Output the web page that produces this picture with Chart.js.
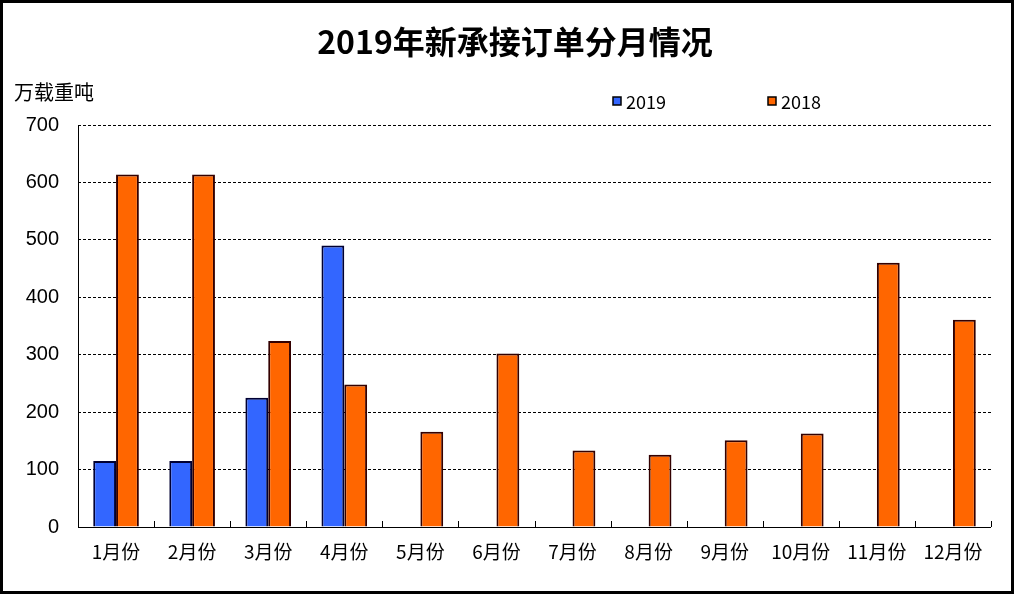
<!DOCTYPE html>
<html><head><meta charset="utf-8">
<script src="https://cdn.jsdelivr.net/npm/chart.js@4.4.1/dist/chart.umd.min.js"></script>
<style>html,body{margin:0;padding:0;background:#fff}#wrap{width:1016px;height:596px;position:relative}</style>
</head><body><div id="wrap"><canvas id="c" width="1016" height="596"></canvas></div>
<script>
const categories = ['1月份','2月份','3月份','4月份','5月份','6月份','7月份','8月份','9月份','10月份','11月份','12月份'];
const series2019 = [115, 115, 225, 490, null, null, null, null, null, null, null, null];
const series2018 = [614, 614, 324, 248, 166, 302, 133, 126, 151, 163, 460, 361];
const yTicks = [0, 100, 200, 300, 400, 500, 600, 700];
const titleText = '2019年新承接订单分月情况';
const unitText = '万载重吨';

const CJK = '"Noto Sans CJK SC", "Noto Sans", sans-serif';

const decor = {
  id: 'decor',
  afterDraw(chart) {
    const ctx = chart.ctx, a = chart.chartArea;
    ctx.save();
    // outer border
    ctx.strokeStyle = '#000'; ctx.lineWidth = 3;
    ctx.strokeRect(1.5, 1.5, 1011, 591);
    // title
    ctx.fillStyle = '#000';
    ctx.font = 'bold 32px ' + CJK;
    ctx.textAlign = 'center'; ctx.textBaseline = 'middle';
    ctx.fillText(titleText, 515, 42);
    // unit
    ctx.font = '20px ' + CJK;
    ctx.textAlign = 'left';
    ctx.fillText(unitText, 14, 92);
    // legend
    const items = [[chart.data.datasets[0], 613], [chart.data.datasets[1], 768]];
    ctx.font = '18px ' + CJK;
    items.forEach(([ds, x]) => {
      ctx.fillStyle = ds.backgroundColor;
      ctx.fillRect(x, 97, 8, 8);
      ctx.strokeStyle = '#000'; ctx.lineWidth = 1.5;
      ctx.strokeRect(x, 97, 8, 8);
      ctx.fillStyle = '#000';
      ctx.fillText(ds.label, x + 13, 102);
    });
    // small upward ticks between categories on x axis
    ctx.strokeStyle = '#000'; ctx.lineWidth = 1;
    const n = categories.length;
    const step = (a.right - a.left) / n;
    for (let i = 1; i <= n; i++) {
      const x = Math.round(a.left + step * i) + 0.5;
      ctx.beginPath(); ctx.moveTo(x, a.bottom); ctx.lineTo(x, a.bottom - 6); ctx.stroke();
    }
    // axes lines
    ctx.beginPath(); ctx.moveTo(a.left + 0.5, a.top); ctx.lineTo(a.left + 0.5, a.bottom + 0.5);
    ctx.lineTo(a.right, a.bottom + 0.5); ctx.stroke();
    ctx.restore();
  }
};

new Chart(document.getElementById('c'), {
  type: 'bar',
  data: {
    labels: categories,
    datasets: [
      { label: '2019', data: series2019, backgroundColor: '#3366FF', borderColor: '#000033', borderWidth: 2, borderSkipped: 'bottom' },
      { label: '2018', data: series2018, backgroundColor: '#FF6600', borderColor: '#330000', borderWidth: 2, borderSkipped: 'bottom' }
    ]
  },
  options: {
    responsive: false,
    animation: false,
    devicePixelRatio: 1,
    layout: { padding: { top: 125, right: 25, bottom: 0, left: 0 } },
    plugins: { legend: { display: false }, title: { display: false }, tooltip: { enabled: false } },
    datasets: { bar: { categoryPercentage: 0.6, barPercentage: 1.0 } },
    scales: {
      x: {
        grid: { display: false, offset: true },
        border: { display: false },
        ticks: { color: '#000', font: { family: CJK, size: 19 }, padding: 5, maxRotation: 0, autoSkip: false },
        afterFit(s) { s.height = 69; }
      },
      y: {
        min: 0, max: 700,
        afterBuildTicks(s) { s.ticks = yTicks.map(v => ({ value: v })); },
        ticks: { color: '#000', font: { family: 'Arial, "Liberation Sans", sans-serif', size: 20 }, padding: 19 },
        grid: { color: '#000', lineWidth: 1, drawTicks: false },
        border: { display: false, dash: [3, 2] },
        afterFit(s) { s.width = 78; }
      }
    }
  },
  plugins: [decor]
});
</script></body></html>
